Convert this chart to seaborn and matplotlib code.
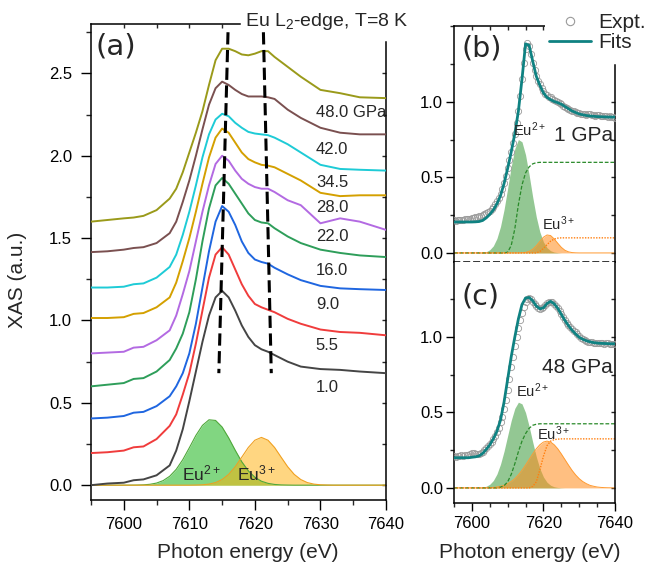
import numpy as np
import pandas as pd
import matplotlib
matplotlib.use('Agg')
import matplotlib.pyplot as plt
from matplotlib.ticker import MultipleLocator, FixedLocator
from matplotlib.lines import Line2D
import seaborn as sns

# ---------------- panel (a): stacked spectra ----------------
energy_a = [7595, 7597.5, 7600, 7601.5, 7603, 7605, 7607, 7608, 7609, 7610, 7611, 7612,
            7613, 7614, 7615, 7616, 7617, 7618, 7619, 7620, 7621, 7622, 7623, 7625,
            7627, 7630, 7633, 7636, 7640]
pressures = ['1.0', '5.5', '9.0', '16.0', '22.0', '28.0', '34.5', '42.0', '48.0 GPa']
xas_1p0 = [0.0, 0.01, 0.015, 0.03, 0.035, 0.06, 0.12, 0.21, 0.34, 0.51, 0.69, 0.87,
           1.03, 1.14, 1.18, 1.14, 1.06, 0.97, 0.90, 0.85, 0.825, 0.81, 0.79, 0.75,
           0.72, 0.705, 0.70, 0.69, 0.68]
xas_5p5 = [0.195, 0.20, 0.21, 0.23, 0.235, 0.28, 0.36, 0.43, 0.55, 0.68, 0.86, 1.06,
           1.26, 1.40, 1.445, 1.40, 1.31, 1.22, 1.15, 1.10, 1.08, 1.065, 1.05, 1.01,
           0.98, 0.945, 0.93, 0.925, 0.91]
xas_9p0 = [0.405, 0.41, 0.42, 0.44, 0.445, 0.48, 0.54, 0.60, 0.68, 0.80, 0.98, 1.20,
           1.42, 1.60, 1.695, 1.66, 1.58, 1.48, 1.41, 1.37, 1.355, 1.345, 1.32, 1.28,
           1.245, 1.21, 1.195, 1.19, 1.185]
xas_16p0 = [0.60, 0.61, 0.62, 0.645, 0.65, 0.69, 0.76, 0.83, 0.92, 1.05, 1.25, 1.48,
            1.68, 1.82, 1.865, 1.83, 1.77, 1.71, 1.65, 1.61, 1.595, 1.59, 1.56, 1.51,
            1.47, 1.43, 1.41, 1.395, 1.385]
xas_22p0 = [0.80, 0.805, 0.81, 0.835, 0.84, 0.88, 0.94, 1.03, 1.16, 1.30, 1.48, 1.66,
            1.82, 1.95, 2.0, 1.97, 1.91, 1.86, 1.83, 1.81, 1.80, 1.80, 1.78, 1.73,
            1.70, 1.59, 1.62, 1.60, 1.55]
xas_28p0 = [1.015, 1.015, 1.02, 1.04, 1.045, 1.08, 1.14, 1.23, 1.36, 1.50, 1.66, 1.83,
            1.99, 2.11, 2.165, 2.14, 2.08, 2.02, 1.98, 1.96, 1.945, 1.94, 1.93, 1.89,
            1.85, 1.775, 1.755, 1.76, 1.76]
xas_34p5 = [1.20, 1.20, 1.205, 1.22, 1.225, 1.26, 1.325, 1.40, 1.52, 1.66, 1.82, 1.99,
            2.13, 2.22, 2.255, 2.24, 2.20, 2.17, 2.145, 2.135, 2.13, 2.125, 2.11, 2.07,
            2.02, 1.945, 1.92, 1.915, 1.91]
xas_42p0 = [1.415, 1.42, 1.43, 1.44, 1.445, 1.47, 1.53, 1.60, 1.72, 1.85, 2.00, 2.16,
            2.31, 2.41, 2.45, 2.43, 2.40, 2.375, 2.36, 2.36, 2.36, 2.355, 2.345, 2.28,
            2.23, 2.17, 2.14, 2.13, 2.13]
xas_48p0 = [1.60, 1.61, 1.62, 1.625, 1.635, 1.67, 1.74, 1.80, 1.90, 2.02, 2.14, 2.27,
            2.43, 2.58, 2.65, 2.65, 2.635, 2.615, 2.61, 2.62, 2.635, 2.635, 2.60, 2.54,
            2.48, 2.40, 2.38, 2.355, 2.35]
spectra_a = [xas_1p0, xas_5p5, xas_9p0, xas_16p0, xas_22p0, xas_28p0, xas_34p5, xas_42p0, xas_48p0]

# guide lines (energies of the two features)
guide_E_top = [7615.9, 7621.3]
guide_E_bottom = [7614.5, 7622.5]
guide_y = [2.75, 0.68]

# fit components on a 1 eV grid 7595..7640
energy_comp = np.arange(7595, 7641)
eu2_a = [0.0] * 6 + [0.0002, 0.0007, 0.002, 0.0054, 0.0128, 0.0276, 0.054, 0.096, 0.155,
                     0.227, 0.302, 0.363, 0.397, 0.393, 0.353, 0.287, 0.212, 0.142, 0.087,
                     0.048, 0.024, 0.011, 0.0044, 0.0016, 0.0006] + [0.0] * 15
eu3_a = [0.0] * 16 + [0.0008, 0.0023, 0.0064, 0.0157, 0.0342, 0.0655, 0.112, 0.170, 0.229,
                      0.273, 0.29, 0.273, 0.229, 0.170, 0.112, 0.0655, 0.0342, 0.0157,
                      0.0064, 0.0023, 0.0008] + [0.0] * 9

# ---------------- panel (b): 1 GPa fit ----------------
energy_expt = np.arange(7595, 7640.25, 0.5)
expt_b = [0.215, 0.212, 0.215, 0.218, 0.22, 0.218, 0.222, 0.225, 0.228, 0.226,
          0.23, 0.232, 0.236, 0.24, 0.242, 0.245, 0.25, 0.256, 0.262, 0.27,
          0.28, 0.292, 0.305, 0.322, 0.342, 0.365, 0.39, 0.425, 0.465, 0.51,
          0.56, 0.615, 0.67, 0.73, 0.79, 0.86, 0.94, 1.04, 1.15, 1.26,
          1.35, 1.39, 1.37, 1.32, 1.26, 1.21, 1.17, 1.14, 1.12, 1.09,
          1.07, 1.055, 1.045, 1.035, 1.03, 1.022, 1.015, 1.005, 1.0, 0.99,
          0.985, 0.975, 0.968, 0.96, 0.955, 0.948, 0.942, 0.938, 0.932, 0.93,
          0.925, 0.922, 0.92, 0.918, 0.915, 0.918, 0.92, 0.915, 0.912, 0.91,
          0.912, 0.915, 0.91, 0.908, 0.905, 0.905, 0.903, 0.905, 0.90, 0.898,
          0.895]
fit_b = [0.205, 0.205, 0.205, 0.205, 0.205, 0.205, 0.206, 0.208, 0.215, 0.232,
         0.255, 0.285, 0.325, 0.38, 0.46, 0.56, 0.67, 0.79, 0.94, 1.15,
         1.385, 1.375, 1.27, 1.17, 1.11, 1.06, 1.03, 1.015, 1.003, 0.995,
         0.985, 0.97, 0.955, 0.94, 0.93, 0.92, 0.915, 0.91, 0.907, 0.905,
         0.903, 0.902, 0.901, 0.90, 0.90, 0.90]
eu2_b = [0.0] * 7 + [0.001, 0.003, 0.008, 0.021, 0.047, 0.096, 0.175, 0.288, 0.428, 0.573,
                     0.691, 0.751, 0.736, 0.650, 0.517, 0.370, 0.239, 0.139, 0.073, 0.0345,
                     0.0147, 0.0056, 0.002] + [0.0] * 16
eu3_b = [0.0] * 19 + [0.0012, 0.0038, 0.0105, 0.024, 0.047, 0.076, 0.104, 0.119, 0.115,
                      0.093, 0.064, 0.037, 0.0176, 0.0072, 0.0024, 0.0007] + [0.0] * 11
step2_b = [0.0] * 15 + [0.005, 0.05, 0.16, 0.32, 0.45, 0.53, 0.57, 0.59, 0.598] + [0.6] * 22
step3_b = [0.0] * 24 + [0.01, 0.03, 0.055, 0.078, 0.092, 0.098] + [0.1] * 16

# ---------------- panel (c): 48 GPa fit ----------------
expt_c = [0.21, 0.205, 0.21, 0.212, 0.215, 0.213, 0.215, 0.218, 0.22, 0.225,
          0.23, 0.232, 0.228, 0.225, 0.228, 0.232, 0.24, 0.25, 0.262, 0.275,
          0.29, 0.305, 0.325, 0.345, 0.37, 0.40, 0.435, 0.47, 0.52, 0.58,
          0.65, 0.72, 0.80, 0.87, 0.94, 1.0, 1.06, 1.11, 1.16, 1.20,
          1.235, 1.255, 1.26, 1.25, 1.235, 1.22, 1.205, 1.195, 1.185, 1.19,
          1.20, 1.215, 1.225, 1.232, 1.235, 1.23, 1.22, 1.205, 1.19, 1.17,
          1.15, 1.13, 1.11, 1.095, 1.08, 1.068, 1.055, 1.042, 1.03, 1.018,
          1.005, 0.995, 0.99, 0.982, 0.975, 0.97, 0.968, 0.965, 0.962, 0.96,
          0.96, 0.958, 0.962, 0.958, 0.955, 0.957, 0.958, 0.955, 0.952, 0.955,
          0.953]
fit_c = [0.20, 0.20, 0.20, 0.20, 0.20, 0.203, 0.206, 0.212, 0.228, 0.255,
         0.285, 0.325, 0.375, 0.45, 0.57, 0.72, 0.87, 1.0, 1.12, 1.215,
         1.258, 1.262, 1.24, 1.205, 1.187, 1.193, 1.222, 1.236, 1.22, 1.19,
         1.15, 1.11, 1.075, 1.045, 1.02, 0.998, 0.985, 0.975, 0.968, 0.963,
         0.96, 0.958, 0.957, 0.956, 0.955, 0.955]
eu2_c = [0.0] * 7 + [0.0016, 0.0044, 0.0108, 0.024, 0.049, 0.092, 0.157, 0.244, 0.346, 0.447,
                     0.527, 0.568, 0.557, 0.499, 0.408, 0.304, 0.207, 0.128, 0.0725, 0.0375,
                     0.0177, 0.0076, 0.003, 0.001] + [0.0] * 15
eu3_c = [0.0] * 8 + [0.0005, 0.001, 0.0019, 0.0034, 0.006, 0.011, 0.017, 0.028, 0.042, 0.061,
                     0.086, 0.116, 0.151, 0.188, 0.225, 0.259, 0.286, 0.304, 0.31, 0.304,
                     0.286, 0.259, 0.225, 0.188, 0.151, 0.116, 0.086, 0.061, 0.042, 0.028,
                     0.017, 0.011, 0.006, 0.0034, 0.0019, 0.001, 0.0005] + [0.0]
step2_c = [0.0] * 13 + [0.005, 0.015, 0.04, 0.09, 0.16, 0.24, 0.31, 0.36, 0.395, 0.415, 0.422] + [0.425] * 22
step3_c = [0.0] * 22 + [0.01, 0.04, 0.12, 0.21, 0.28, 0.31, 0.32, 0.323] + [0.325] * 16

# ---------------- style ----------------
sns.set_theme(style='ticks')
plt.rcParams['font.family'] = ['Liberation Sans', 'DejaVu Sans']
plt.rcParams['mathtext.fontset'] = 'custom'
plt.rcParams['mathtext.rm'] = 'Liberation Sans'
plt.rcParams['mathtext.it'] = 'Liberation Sans:italic'
plt.rcParams['mathtext.bf'] = 'Liberation Sans:bold'
plt.rcParams['axes.linewidth'] = 1.1
plt.rcParams['axes.edgecolor'] = 'black'

curve_colors = ['#454545', '#f03c3c', '#1f66e0', '#2e9e5a', '#b36ae2',
                '#d4a000', '#1ecbd6', '#7a5050', '#9a9a1a']
label_y = [0.595, 0.85, 1.094, 1.306, 1.507, 1.683, 1.84, 2.035, 2.265]
teal = '#0f8282'
expt_gray = '#9a9a9a'

W, H = 646, 564
fig = plt.figure(figsize=(W / 100, H / 100), dpi=100)


def px_axes(l, t, r, b):
    return fig.add_axes([l / W, 1 - b / H, (r - l) / W, (b - t) / H])


ax_a = px_axes(91, 24, 386, 500)
ax_b = px_axes(454, 26, 615, 262)
ax_c = px_axes(454, 262, 615, 503)


def inner_ticks(ax, top_ticks=None, right_ticks=None, length=3):
    if top_ticks is not None:
        s = ax.secondary_xaxis('top')
        s.set_ticks(top_ticks)
        s.tick_params(axis='x', direction='in', length=length, width=1.0, labeltop=False)
        for sp in s.spines.values():
            sp.set_visible(False)
    if right_ticks is not None:
        s = ax.secondary_yaxis('right')
        s.set_ticks(right_ticks)
        s.tick_params(axis='y', direction='in', length=length, width=1.0, labelright=False)
        for sp in s.spines.values():
            sp.set_visible(False)


# ---- panel (a) ----
ax_a.fill_between(energy_comp, 0, eu2_a, color='#05af05', alpha=0.5, lw=0, zorder=1)
ax_a.fill_between(energy_comp, 0, eu3_a, color='#ffaf05', alpha=0.5, lw=0, zorder=1.2)
sns.lineplot(x=energy_comp, y=eu2_a, ax=ax_a, color='#4fa83a', lw=0.8, zorder=1.5)
sns.lineplot(x=energy_comp, y=eu3_a, ax=ax_a, color='#f0a020', lw=0.8, zorder=1.6)
for vals, col, lab, ly in zip(spectra_a, curve_colors, pressures, label_y):
    sns.lineplot(x=energy_a, y=vals, ax=ax_a, color=col, lw=1.4, zorder=3)
    ax_a.text(7629.3, ly, lab, fontsize=12, ha='left', va='center')
for et, eb in zip(guide_E_top, guide_E_bottom):
    ax_a.plot([et, eb], guide_y, color='black', lw=2.2, ls=(0, (4, 1.8)), zorder=4)
ax_a.text(7608.9, 0.03, 'Eu$^{2+}$', fontsize=12.5, ha='left', va='baseline', zorder=5)
ax_a.text(7617.3, 0.03, 'Eu$^{3+}$', fontsize=12.5, ha='left', va='baseline', zorder=5)

ax_a.set_xlim(7595, 7640)
ax_a.set_ylim(-0.09, 2.80)
ax_a.xaxis.set_major_locator(MultipleLocator(10))
ax_a.xaxis.set_minor_locator(MultipleLocator(5))
ax_a.yaxis.set_major_locator(FixedLocator([0, 0.5, 1.0, 1.5, 2.0, 2.5]))
ax_a.yaxis.set_minor_locator(MultipleLocator(0.25))
ax_a.tick_params(which='major', direction='out', length=7, width=1.0, labelsize=12, colors='black')
ax_a.tick_params(which='minor', direction='out', length=3.5, width=1.0)
ax_a.tick_params(axis='y', pad=6.5)
ax_a.tick_params(axis='x', pad=5)
ax_a.spines['top'].set_bounds(7595, 7617.7)
ax_a.spines['right'].set_bounds(-0.09, 2.69)
inner_ticks(ax_a, top_ticks=[7600, 7605, 7610, 7615],
            right_ticks=[0, 0.25, 0.5, 0.75, 1.0, 1.25, 1.5, 1.75, 2.0, 2.25, 2.5])
ax_a.set_xlabel('Photon energy (eV)', fontsize=15)
ax_a.set_ylabel('XAS (a.u.)', fontsize=15)
ax_a.xaxis.set_label_coords(0.532, -0.09)
ax_a.yaxis.set_label_coords(-0.217, 0.462)

# ---- panels (b) and (c) ----
green_fill = '#3a9a3a'
orange_fill = '#ff8c1a'
for ax, expt, fit, g2, g3, s2, s3 in [(ax_b, expt_b, fit_b, eu2_b, eu3_b, step2_b, step3_b),
                                       (ax_c, expt_c, fit_c, eu2_c, eu3_c, step2_c, step3_c)]:
    ax.fill_between(energy_comp, 0, g2, color=green_fill, alpha=0.55, lw=0, zorder=1)
    ax.fill_between(energy_comp, 0, g3, color=orange_fill, alpha=0.55, lw=0, zorder=1.2)
    sns.lineplot(x=energy_comp, y=g3, ax=ax, color='#ff9a30', lw=0.7, zorder=1.4)
    sns.lineplot(x=energy_comp, y=s2, ax=ax, color='#2a8a2a', lw=0.9, ls=(0, (3, 1.5)), zorder=2)
    sns.lineplot(x=energy_comp, y=s3, ax=ax, color='#ff7f0e', lw=1.0, ls=(0, (1, 1)), zorder=2.1)
    sns.lineplot(x=energy_expt, y=expt, ax=ax, color=expt_gray, linestyle='none', marker='o',
                 markersize=4.5, markerfacecolor='none', markeredgecolor=expt_gray,
                 markeredgewidth=0.6, zorder=3)
    sns.lineplot(x=energy_comp, y=fit, ax=ax, color=teal, lw=2.0, zorder=4)
    ax.set_xlim(7595, 7640)
    ax.xaxis.set_major_locator(FixedLocator([7600, 7620, 7640]))
    ax.xaxis.set_minor_locator(MultipleLocator(5))
    ax.yaxis.set_major_locator(FixedLocator([0, 0.5, 1.0]))
    ax.yaxis.set_minor_locator(MultipleLocator(0.25))
    ax.tick_params(which='major', direction='out', length=5.5, width=1.0, labelsize=12, colors='black')
    ax.tick_params(which='minor', direction='out', length=3, width=1.0)
    ax.tick_params(axis='y', pad=2.5)
    ax.tick_params(axis='x', pad=4)

ax_b.set_ylim(-0.06, 1.503)
ax_c.set_ylim(-0.1, 1.497)
ax_b.tick_params(axis='x', which='both', bottom=False, labelbottom=False)
ax_b.spines['bottom'].set_linestyle((0, (3.6, 2.9)))
ax_b.spines['top'].set_bounds(7595, 7621.3)
ax_b.spines['right'].set_bounds(-0.06, 1.245)
inner_ticks(ax_b, top_ticks=[7600, 7605, 7610, 7615, 7620], right_ticks=[0, 0.25, 0.5, 0.75, 1.0])
ax_c.spines['top'].set_visible(False)
inner_ticks(ax_c, right_ticks=[0, 0.25, 0.5, 0.75, 1.0, 1.25])

ax_b.text(7611.5, 0.775, 'Eu$^{2+}$', fontsize=10.5, ha='left', va='baseline', zorder=5)
ax_b.text(7619.6, 0.15, 'Eu$^{3+}$', fontsize=10.5, ha='left', va='baseline', zorder=5)
ax_c.text(7612.3, 0.60, 'Eu$^{2+}$', fontsize=10.5, ha='left', va='baseline', zorder=5)
ax_c.text(7618.2, 0.32, 'Eu$^{3+}$', fontsize=10.5, ha='left', va='baseline', zorder=5)
ax_b.text(7639.5, 0.778, '1 GPa', fontsize=15, ha='right', va='center', zorder=5)
ax_c.text(7639.5, 0.80, '48 GPa', fontsize=15, ha='right', va='center', zorder=5)
ax_b.set_xlabel('')
ax_b.set_ylabel('')
ax_c.set_ylabel('')
ax_c.set_xlabel('Photon energy (eV)', fontsize=15)
ax_c.xaxis.set_label_coords(0.472, -0.166)

handles = [Line2D([], [], ls='none', marker='o', markersize=6, markerfacecolor='none',
                  markeredgecolor=expt_gray, markeredgewidth=0.8),
           Line2D([], [], color=teal, lw=2.0)]
leg = ax_b.legend(handles, ['Expt.', 'Fits'], loc='upper left',
                  bbox_to_anchor=(545 / W, 1 - 9 / H), bbox_transform=fig.transFigure,
                  frameon=True, facecolor='white', edgecolor='none', framealpha=1,
                  fontsize=15, handlelength=2.0, handletextpad=0.35, labelspacing=0.05,
                  borderpad=0.2, borderaxespad=0, fancybox=False)
leg.set_zorder(10)

# panel labels and title
fig.text(96 / W, 1 - 46 / H, '(a)', fontsize=21, family='DejaVu Sans', ha='left', va='center')
fig.text(462 / W, 1 - 49 / H, '(b)', fontsize=20.5, family='DejaVu Sans', ha='left', va='center')
fig.text(462 / W, 1 - 297 / H, '(c)', fontsize=20.5, family='DejaVu Sans', ha='left', va='center')
fig.text(245 / W, 1 - 22 / H, 'Eu L$_2$-edge, T=8 K', fontsize=14, ha='left', va='center')

fig.savefig('out.png', dpi=100)
